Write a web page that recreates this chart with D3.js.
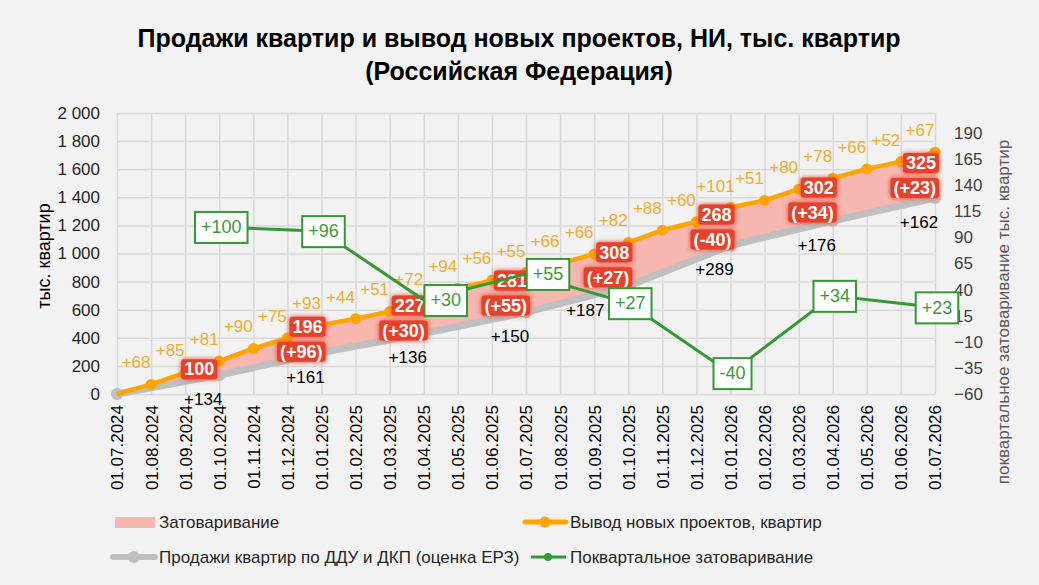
<!DOCTYPE html>
<html>
<head>
<meta charset="utf-8">
<script src="https://cdn.jsdelivr.net/npm/d3@7"></script>
<style>
  body { margin: 0; background: #f2f2f2; }
  svg { font-family: "Liberation Sans", Arial, sans-serif; display: block; }
</style>
</head>
<body>
<div id="chart"></div>
<script>
// monthly dates on the x axis
var months = ["01.07.2024", "01.08.2024", "01.09.2024", "01.10.2024", "01.11.2024", "01.12.2024",
    "01.01.2025", "01.02.2025", "01.03.2025", "01.04.2025", "01.05.2025", "01.06.2025",
    "01.07.2025", "01.08.2025", "01.09.2025", "01.10.2025", "01.11.2025", "01.12.2025",
    "01.01.2026", "01.02.2026", "01.03.2026", "01.04.2026", "01.05.2026", "01.06.2026", "01.07.2026"];

// cumulative new projects, thousand flats (monthly)
var newProjects = [0, 68, 153, 234, 324, 399, 492, 536, 587, 659, 753, 809, 864,
    930, 996, 1078, 1166, 1226, 1327, 1378, 1458, 1536, 1602, 1654, 1721];

// quarter dates, cumulative sales (DDU + DKP)
var quarters = ["01.07.2024", "01.10.2024", "01.01.2025", "01.04.2025", "01.07.2025",
    "01.10.2025", "01.01.2026", "01.04.2026", "01.07.2026"];
var sales = [0, 134, 295, 431, 581, 768, 1057, 1233, 1395];

// overstock at quarter end and quarterly change (right axis)
var stockDates = quarters.slice(1);
var stock = [100, 196, 227, 281, 308, 268, 302, 325];
var stockChange = [100, 96, 30, 55, 27, -40, 34, 23];

var leftTicks = [0, 200, 400, 600, 800, 1000, 1200, 1400, 1600, 1800, 2000];
var rightTicks = [-60, -35, -10, 15, 40, 65, 90, 115, 140, 165, 190];

var W = 1039, H = 585;
var x0 = 117, x1 = 935, yBottom = 394, yTop = 113;

var orange = "#ffa500", gray = "#bfbfbf", green = "#339933", red = "#e8412c";

var svg = d3.select("#chart").append("svg")
    .attr("width", W).attr("height", H);

svg.append("rect").attr("width", W).attr("height", H).attr("fill", "#f2f2f2");

var defs = svg.append("defs");
var glow = defs.append("filter").attr("id", "glow")
    .attr("x", "-30%").attr("y", "-40%").attr("width", "160%").attr("height", "180%");
glow.append("feGaussianBlur").attr("in", "SourceGraphic").attr("stdDeviation", 2.4).attr("result", "b");
var fm = glow.append("feMerge");
fm.append("feMergeNode").attr("in", "b");
fm.append("feMergeNode").attr("in", "SourceGraphic");

// scales
var x = d3.scalePoint().domain(months).range([x0, x1]);
var y = d3.scaleLinear().domain([0, 2000]).range([yBottom, yTop]);
var y2 = d3.scaleLinear().domain([-60, 190]).range([yBottom, 133]);

var fmt = d3.formatLocale({ decimal: ",", thousands: " ", grouping: [3], currency: ["", ""] }).format(",d");
var signed = function (v) { return (v > 0 ? "+" : "") + v; };

// title
var title = svg.append("text").attr("x", 519).attr("text-anchor", "middle")
    .style("font-weight", "bold").style("font-size", "25px").attr("fill", "#000");
title.append("tspan").attr("x", 519).attr("y", 47).text("Продажи квартир и вывод новых проектов, НИ, тыс. квартир");
title.append("tspan").attr("x", 519).attr("y", 80).text("(Российская Федерация)");

// grid
svg.append("g")
    .attr("transform", "translate(0," + yBottom + ")")
    .call(d3.axisBottom(x).tickSize(-(yBottom - yTop)).tickFormat(""))
    .call(function (g) { g.select(".domain").remove(); })
    .selectAll("line").attr("stroke", "#d9d9d9").attr("stroke-width", 1.5);

svg.append("g")
    .attr("transform", "translate(" + x0 + ",0)")
    .call(d3.axisLeft(y).tickValues(d3.range(0, 2001, 200)).tickSize(-(x1 - x0)).tickFormat(""))
    .call(function (g) { g.select(".domain").remove(); })
    .selectAll("line").attr("stroke", "#d9d9d9").attr("stroke-width", 1.5);

// left axis labels
var ly = svg.append("g")
    .attr("transform", "translate(" + x0 + ",0)")
    .call(d3.axisLeft(y).tickValues(leftTicks).tickSize(0).tickPadding(17).tickFormat(fmt));
ly.select(".domain").remove();
ly.selectAll("text").style("font-size", "17px").attr("fill", "#262626").attr("font-family", null);

// right axis labels
var ry = svg.append("g")
    .attr("transform", "translate(" + x1 + ",0)")
    .call(d3.axisRight(y2).tickValues(rightTicks).tickSize(0).tickPadding(19));
ry.select(".domain").remove();
ry.selectAll("text").style("font-size", "17px").attr("fill", "#404040").attr("font-family", null);

// x axis labels
var xa = svg.append("g")
    .attr("transform", "translate(0," + yBottom + ")")
    .call(d3.axisBottom(x).tickSize(0).tickPadding(0));
xa.select(".domain").remove();
xa.selectAll("text")
    .attr("font-family", null)
    .style("font-size", "17px").attr("fill", "#000")
    .attr("text-anchor", "end")
    .attr("dy", "0.35em")
    .attr("transform", "translate(0,11) rotate(-90)")
    .attr("x", 0).attr("y", 0);

// axis titles
svg.append("text")
    .attr("transform", "translate(50,256) rotate(-90)")
    .attr("text-anchor", "middle")
    .style("font-size", "18px").attr("fill", "#000")
    .text("тыс. квартир");
svg.append("text")
    .attr("transform", "translate(1009,312) rotate(-90)")
    .attr("text-anchor", "middle")
    .style("font-size", "17px").attr("fill", "#595959")
    .text("поквартальное затоваривание тыс. квартир");

// overstock area between new projects and sales
var orangePts = months.map(function (m, i) { return [x(m), y(newProjects[i])]; });
var grayPts = quarters.map(function (m, i) { return [x(m), y(sales[i])]; });
svg.append("path")
    .attr("d", d3.line()(orangePts.concat(grayPts.slice().reverse())) + "Z")
    .attr("fill", "#f5b7b0");

// sales line
svg.append("path")
    .attr("d", d3.line()(grayPts))
    .attr("fill", "none").attr("stroke", gray).attr("stroke-width", 7).attr("stroke-linejoin", "round");
svg.selectAll(".gdot").data(grayPts).enter().append("circle")
    .attr("cx", function (d) { return d[0]; }).attr("cy", function (d) { return d[1]; })
    .attr("r", 6).attr("fill", gray);

// new projects line
svg.append("path")
    .attr("d", d3.line()(orangePts))
    .attr("fill", "none").attr("stroke", orange).attr("stroke-width", 4.5).attr("stroke-linejoin", "round");
svg.selectAll(".odot").data(orangePts.slice(1)).enter().append("circle")
    .attr("cx", function (d) { return d[0]; }).attr("cy", function (d) { return d[1]; })
    .attr("r", 5.5).attr("fill", orange);

// monthly increments of new projects
svg.selectAll(".olab").data(months.slice(1)).enter().append("text")
    .attr("x", function (m) { return x(m) - 15; })
    .attr("y", function (m, i) { return y(newProjects[i + 1]) - 22; })
    .attr("dy", "0.35em")
    .attr("text-anchor", "middle")
    .style("font-size", "17px").attr("fill", "#f0ac2c")
    .text(function (m, i) { return signed(newProjects[i + 1] - newProjects[i]); });

// quarterly sales labels
svg.selectAll(".slab").data(quarters.slice(1)).enter().append("text")
    .attr("x", function (m, i) { return x(m) - (i === 4 ? 43 : 16); })
    .attr("y", function (m, i) { return y(sales[i + 1]) + 24; })
    .attr("dy", "0.35em")
    .attr("text-anchor", "middle")
    .style("font-size", "17px").attr("fill", "#000")
    .text(function (m, i) { return signed(sales[i + 1] - sales[i]); });

// overstock labels (red)
function redLabel(xr, yc, txt) {
    var g = svg.append("g");
    var t = g.append("text")
        .attr("x", xr).attr("y", yc).attr("dy", "0.35em")
        .attr("text-anchor", "end")
        .style("font-size", "18px").style("font-weight", "bold").attr("fill", "#fff")
        .text(txt);
    var bb = t.node().getBBox();
    g.insert("rect", "text")
        .attr("x", bb.x - 3).attr("y", yc - 10).attr("width", bb.width + 6).attr("height", 20)
        .attr("rx", 3).attr("fill", red).attr("filter", "url(#glow)");
}
stockDates.forEach(function (m, i) {
    var mid = (y(newProjects[months.indexOf(m)]) + y(sales[i + 1])) / 2;
    var xr = x(m) + 1;
    if (i === 0) {
        redLabel(xr - 6, mid + 1, stock[i]);
    } else {
        redLabel(xr, mid - 12, stock[i]);
        redLabel(xr, mid + 13, "(" + signed(stockChange[i]) + ")");
    }
});

// quarterly overstock change line (right axis)
var greenPts = stockDates.map(function (m, i) { return [x(m), y2(stockChange[i])]; });
svg.append("path")
    .attr("d", d3.line()(greenPts))
    .attr("fill", "none").attr("stroke", green).attr("stroke-width", 3);

greenPts.forEach(function (p, i) {
    // two boxes sit right of their point in the original, so they do not hide the red labels
    var cx = p[0] + 2 + (i === 2 || i === 3 ? 20 : 0);
    var g = svg.append("g");
    var t = g.append("text")
        .attr("x", cx).attr("y", p[1]).attr("dy", "0.35em")
        .attr("text-anchor", "middle")
        .style("font-size", "18px").attr("fill", "#3a9a3a")
        .text(signed(stockChange[i]));
    var w = t.node().getComputedTextLength();
    g.insert("rect", "text")
        .attr("x", cx - w / 2 - 6).attr("y", p[1] - 15)
        .attr("width", w + 12).attr("height", 31)
        .attr("fill", "#fff").attr("stroke", green).attr("stroke-width", 2);
});

// legend
var lg = svg.append("g").style("font-size", "17px").attr("fill", "#262626");
lg.append("rect").attr("x", 115).attr("y", 517).attr("width", 40).attr("height", 11).attr("fill", "#f5b7b0");
lg.append("text").attr("x", 159).attr("y", 522).attr("dy", "0.35em").text("Затоваривание");

lg.append("line").attr("x1", 113).attr("x2", 155).attr("y1", 557).attr("y2", 557)
    .attr("stroke", gray).attr("stroke-width", 6).attr("stroke-linecap", "round");
lg.append("circle").attr("cx", 134).attr("cy", 557).attr("r", 6).attr("fill", gray);
lg.append("text").attr("x", 159).attr("y", 557).attr("dy", "0.35em").text("Продажи квартир по ДДУ и ДКП (оценка ЕРЗ)");

lg.append("line").attr("x1", 525).attr("x2", 566).attr("y1", 522).attr("y2", 522)
    .attr("stroke", orange).attr("stroke-width", 5).attr("stroke-linecap", "round");
lg.append("circle").attr("cx", 545).attr("cy", 522).attr("r", 5.5).attr("fill", orange);
lg.append("text").attr("x", 570).attr("y", 522).attr("dy", "0.35em").text("Вывод новых проектов, квартир");

lg.append("line").attr("x1", 531).attr("x2", 566).attr("y1", 557).attr("y2", 557)
    .attr("stroke", green).attr("stroke-width", 3);
lg.append("circle").attr("cx", 548).attr("cy", 557).attr("r", 4).attr("fill", green);
lg.append("text").attr("x", 570).attr("y", 557).attr("dy", "0.35em").text("Поквартальное затоваривание");
</script>
</body>
</html>
